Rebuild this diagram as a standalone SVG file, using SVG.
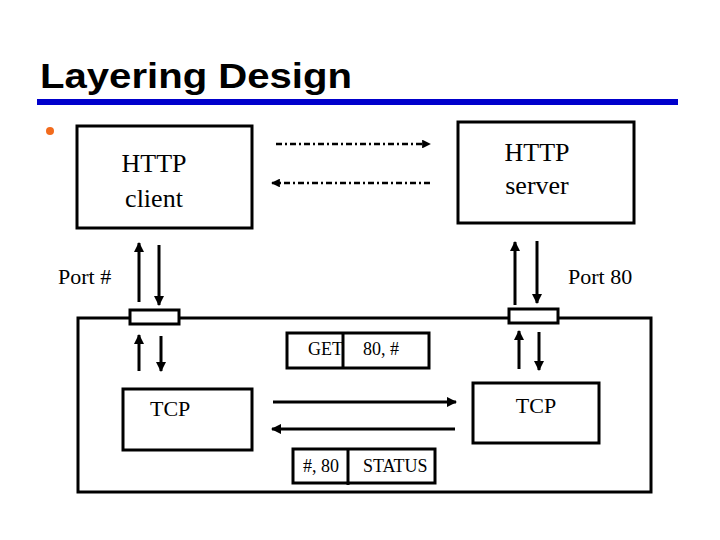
<svg xmlns="http://www.w3.org/2000/svg" width="720" height="540" viewBox="0 0 720 540">
<defs>
<style>
.box{fill:#fff;stroke:#000;stroke-width:3}
.t{fill:#000}
.ln{stroke:#000;stroke-width:3;fill:none}
.dd{stroke:#000;stroke-width:2.5;fill:none;stroke-dasharray:6 3 2 3}
</style>
<marker id="ah" viewBox="0 0 10 10" refX="9" refY="5" markerWidth="3.5" markerHeight="3.5" orient="auto" markerUnits="strokeWidth"><path d="M0,0 L10,5 L0,10 z" fill="#000"/></marker>
</defs>
<rect width="720" height="540" fill="#fff"/>
<text x="40" y="88" font-family="Liberation Sans, Arial, sans-serif" font-weight="bold" font-size="35" textLength="312" lengthAdjust="spacingAndGlyphs">Layering Design</text>
<rect x="37" y="99" width="641" height="6" fill="#0000cc"/>
<circle cx="50" cy="131" r="4" fill="#f26b1d"/>
<g id="system">
<rect x="78" y="318" width="573" height="174" class="box"/>
</g>
<g font-family="Liberation Serif, DejaVu Serif, serif">
<g id="http-client">
<rect x="77" y="126" width="175" height="102" class="box"/>
<text class="t" x="154" y="172" font-size="26" text-anchor="middle">HTTP</text>
<text class="t" x="154" y="207" font-size="26" text-anchor="middle">client</text>
</g>
<g id="http-server">
<rect x="458" y="122" width="176" height="101" class="box"/>
<text class="t" x="537" y="161" font-size="26" text-anchor="middle">HTTP</text>
<text class="t" x="537" y="194" font-size="26" text-anchor="middle">server</text>
</g>
<g id="port-client">
<rect x="130" y="310" width="49" height="14" class="box"/>
<text class="t" x="58" y="284" font-size="22">Port #</text>
</g>
<g id="port-server">
<rect x="509" y="309" width="49" height="14" class="box"/>
<text class="t" x="568" y="284" font-size="22">Port 80</text>
</g>
<g id="tcp-client">
<rect x="123" y="389" width="129" height="61" class="box"/>
<text class="t" x="150" y="416" font-size="22">TCP</text>
</g>
<g id="tcp-server">
<rect x="473" y="383" width="126" height="60" class="box"/>
<text class="t" x="536" y="413" font-size="22" text-anchor="middle">TCP</text>
</g>
<g id="get-packet">
<rect x="287" y="333" width="142" height="35" class="box"/>
<line x1="343" y1="333" x2="343" y2="368" class="ln"/>
<text class="t" x="308" y="355" font-size="18">GET</text>
<text class="t" x="363" y="355" font-size="18">80, #</text>
</g>
<g id="status-packet">
<rect x="293" y="449" width="142" height="34" class="box"/>
<line x1="348" y1="449" x2="348" y2="485" class="ln"/>
<text class="t" x="303" y="472" font-size="18">#, 80</text>
<text class="t" x="363" y="472" font-size="18">STATUS</text>
</g>
</g>
<g id="connectors">
<line x1="276" y1="144" x2="430" y2="144" class="dd" marker-end="url(#ah)"/>
<line x1="430" y1="183" x2="272" y2="183" class="dd" marker-end="url(#ah)"/>
<line x1="139" y1="302" x2="139" y2="243" class="ln" marker-end="url(#ah)"/>
<line x1="159" y1="245" x2="159" y2="305" class="ln" marker-end="url(#ah)"/>
<line x1="515" y1="305" x2="515" y2="242" class="ln" marker-end="url(#ah)"/>
<line x1="537" y1="241" x2="537" y2="303" class="ln" marker-end="url(#ah)"/>
<line x1="139" y1="371" x2="139" y2="335" class="ln" marker-end="url(#ah)"/>
<line x1="161" y1="336" x2="161" y2="371" class="ln" marker-end="url(#ah)"/>
<line x1="519" y1="369" x2="519" y2="331" class="ln" marker-end="url(#ah)"/>
<line x1="539" y1="332" x2="539" y2="370" class="ln" marker-end="url(#ah)"/>
<line x1="273" y1="402" x2="456" y2="402" class="ln" marker-end="url(#ah)"/>
<line x1="455" y1="429" x2="272" y2="429" class="ln" marker-end="url(#ah)"/>
</g>
</svg>
